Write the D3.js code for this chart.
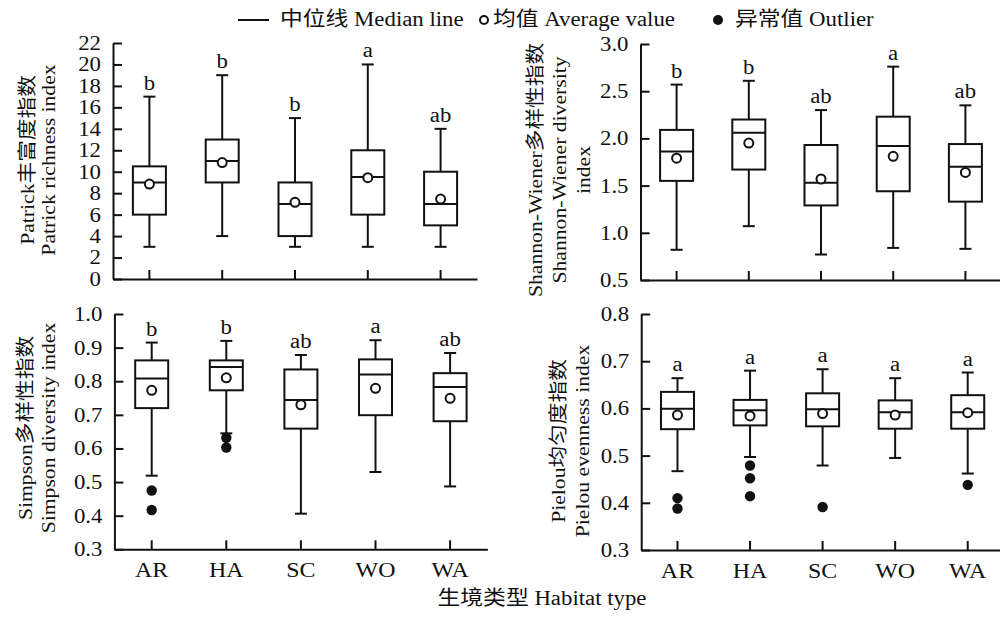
<!DOCTYPE html>
<html>
<head>
<meta charset="utf-8">
<script src="https://cdn.jsdelivr.net/npm/d3@7"></script>
<style>
  body { margin: 0; background: #fff; }
  svg text { font-family: "Liberation Serif", "Times New Roman", "Noto Sans CJK SC", serif; fill: #111; }
</style>
</head>
<body>
<svg id="chart" width="1000" height="618"></svg>
<script>
const habitats = ["AR", "HA", "SC", "WO", "WA"];

// each row: [min, q1, median, q3, max, mean]
const patrickStats = [
    [3, 6, 9, 10.5, 17, 8.85],
    [4, 9, 11, 13, 19, 10.85],
    [3, 4, 7, 9, 15, 7.15],
    [3, 6, 9.5, 12, 20, 9.45],
    [3, 5, 7, 10, 14, 7.45]
];
const patrickOutliers = [[], [], [], [], []];
const patrickLetters = ["b", "b", "b", "a", "ab"];
const patrickTicks = [0, 2, 4, 6, 8, 10, 12, 14, 16, 18, 20, 22];

const shannonStats = [
    [0.82, 1.55, 1.86, 2.09, 2.57, 1.79],
    [1.07, 1.67, 2.06, 2.20, 2.61, 1.95],
    [0.77, 1.29, 1.53, 1.93, 2.30, 1.57],
    [0.84, 1.44, 1.92, 2.23, 2.76, 1.81],
    [0.83, 1.33, 1.70, 1.94, 2.35, 1.64]
];
const shannonOutliers = [[], [], [], [], []];
const shannonLetters = ["b", "b", "ab", "a", "ab"];
const shannonTicks = [0.5, 1.0, 1.5, 2.0, 2.5, 3.0];

const simpsonStats = [
    [0.519, 0.720, 0.808, 0.862, 0.915, 0.773],
    [0.645, 0.773, 0.842, 0.862, 0.920, 0.810],
    [0.406, 0.659, 0.744, 0.835, 0.878, 0.730],
    [0.530, 0.699, 0.820, 0.865, 0.922, 0.779],
    [0.487, 0.681, 0.783, 0.824, 0.884, 0.749]
];
const simpsonOutliers = [[0.475, 0.417], [0.632, 0.603], [], [], []];
const simpsonLetters = ["b", "b", "ab", "a", "ab"];
const simpsonTicks = [0.3, 0.4, 0.5, 0.6, 0.7, 0.8, 0.9, 1.0];

const pielouStats = [
    [0.467, 0.556, 0.599, 0.635, 0.664, 0.586],
    [0.497, 0.564, 0.596, 0.618, 0.680, 0.584],
    [0.479, 0.562, 0.598, 0.632, 0.683, 0.589],
    [0.495, 0.557, 0.592, 0.617, 0.664, 0.586],
    [0.462, 0.557, 0.592, 0.628, 0.676, 0.591]
];
const pielouOutliers = [[0.410, 0.388], [0.479, 0.452, 0.414], [0.391], [], [0.438]];
const pielouLetters = ["a", "a", "a", "a", "a"];
const pielouTicks = [0.3, 0.4, 0.5, 0.6, 0.7, 0.8];

const svg = d3.select("#chart");

const panels = [
    { stats: patrickStats, outliers: patrickOutliers, letters: patrickLetters, ticks: patrickTicks,
      fmt: d3.format("d"), xr: [113, 477], yr: [279, 43], showX: false,
      title: ["Patrick丰富度指数", "Patrick richness index"], titleX: [27, 48], titleY: 160 },
    { stats: shannonStats, outliers: shannonOutliers, letters: shannonLetters, ticks: shannonTicks,
      fmt: d3.format(".1f"), xr: [640.5, 1001.5], yr: [280, 44], showX: false,
      title: ["Shannon-Wiener多样性指数", "Shannon-Wiener diversity", "index"], titleX: [535, 559, 583], titleY: 170 },
    { stats: simpsonStats, outliers: simpsonOutliers, letters: simpsonLetters, ticks: simpsonTicks,
      fmt: d3.format(".1f"), xr: [114.4, 487.4], yr: [549.3, 314], showX: true,
      title: ["Simpson多样性指数", "Simpson diversity index"], titleX: [25, 48], titleY: 428 },
    { stats: pielouStats, outliers: pielouOutliers, letters: pielouLetters, ticks: pielouTicks,
      fmt: d3.format(".1f"), xr: [641.2, 1004], yr: [550, 314], showX: true,
      title: ["Pielou均匀度指数", "Pielou evenness index"], titleX: [558, 582], titleY: 441 }
];

const boxW = 33, capW = 12;

panels.forEach(p => {
    const x = d3.scaleBand().domain(habitats).range(p.xr).padding(0);
    const y = d3.scaleLinear().domain([p.ticks[0], p.ticks[p.ticks.length - 1]]).range(p.yr);
    const g = svg.append("g");

    // axes, ticks pointing inward
    const yAxis = g.append("g")
        .attr("transform", `translate(${p.xr[0]},0)`)
        .call(d3.axisLeft(y).tickValues(p.ticks).tickFormat(p.fmt)
            .tickSizeInner(-9).tickSizeOuter(0).tickPadding(12));
    const xAxis = g.append("g")
        .attr("transform", `translate(0,${p.yr[0]})`)
        .call(d3.axisBottom(x).tickSizeInner(-9).tickSizeOuter(0).tickPadding(13));

    [yAxis, xAxis].forEach(a => {
        a.select(".domain").attr("stroke", "#111").attr("stroke-width", 2);
        a.selectAll(".tick line").attr("stroke", "#111").attr("stroke-width", 2);
        a.selectAll(".tick text").style("font-size", "20px").attr("fill", "#111");
    });
    xAxis.selectAll(".tick text").style("font-size", "21px");
    if (!p.showX) xAxis.selectAll(".tick text").remove();

    const cx = i => x(habitats[i]) + x.bandwidth() / 2;

    p.stats.forEach((s, i) => {
        const [mn, q1, md, q3, mx, mean] = s;
        const c = cx(i);
        const box = g.append("g").attr("stroke", "#111").attr("stroke-width", 2);

        box.append("line").attr("x1", c).attr("x2", c).attr("y1", y(mx)).attr("y2", y(q3));
        box.append("line").attr("x1", c).attr("x2", c).attr("y1", y(q1)).attr("y2", y(mn));
        box.append("line").attr("x1", c - capW / 2).attr("x2", c + capW / 2).attr("y1", y(mx)).attr("y2", y(mx));
        box.append("line").attr("x1", c - capW / 2).attr("x2", c + capW / 2).attr("y1", y(mn)).attr("y2", y(mn));
        box.append("rect")
            .attr("x", c - boxW / 2).attr("width", boxW)
            .attr("y", y(q3)).attr("height", y(q1) - y(q3))
            .attr("fill", "#fff");
        box.append("line").attr("x1", c - boxW / 2).attr("x2", c + boxW / 2).attr("y1", y(md)).attr("y2", y(md));
        box.append("circle").attr("cx", c).attr("cy", y(mean)).attr("r", 4.5).attr("fill", "#fff");

        g.selectAll(null)
            .data(p.outliers[i])
            .enter()
            .append("circle")
            .attr("cx", c)
            .attr("cy", d => y(d))
            .attr("r", 5.2)
            .attr("fill", "#111");

        g.append("text")
            .attr("x", c)
            .attr("y", y(mx) - 7)
            .attr("text-anchor", "middle")
            .style("font-size", "20px")
            .text(p.letters[i]);
    });

    // y titles
    p.title.forEach((t, k) => {
        g.append("text")
            .attr("transform", `translate(${p.titleX[k]},${p.titleY}) rotate(-90)`)
            .attr("text-anchor", "middle")
            .attr("dy", "0.35em")
            .style("font-size", "19px")
            .attr("fill", "#333")
            .text(t);
    });
});

// x title
svg.append("text")
    .attr("x", 542)
    .attr("y", 605)
    .attr("text-anchor", "middle")
    .style("font-size", "20px")
    .attr("fill", "#333")
    .text("生境类型 Habitat type");

// legend
const legend = svg.append("g");
legend.append("line")
    .attr("x1", 238).attr("x2", 269).attr("y1", 20).attr("y2", 20)
    .attr("stroke", "#111").attr("stroke-width", 2);
legend.append("text").attr("x", 280).attr("y", 26).style("font-size", "20px").text("中位线 Median line");
legend.append("circle")
    .attr("cx", 484).attr("cy", 20).attr("r", 4)
    .attr("fill", "#fff").attr("stroke", "#111").attr("stroke-width", 2);
legend.append("text").attr("x", 493).attr("y", 26).style("font-size", "20px").text("均值 Average value");
legend.append("circle")
    .attr("cx", 718).attr("cy", 20).attr("r", 5).attr("fill", "#111");
legend.append("text").attr("x", 735).attr("y", 26).style("font-size", "20px").text("异常值 Outlier");

// the source type is set wider than Times; stretch every label along its run
svg.selectAll("text").each(function() {
    const w = this.getComputedTextLength();
    d3.select(this).attr("textLength", w * 1.14).attr("lengthAdjust", "spacingAndGlyphs");
});
</script>
</body>
</html>
